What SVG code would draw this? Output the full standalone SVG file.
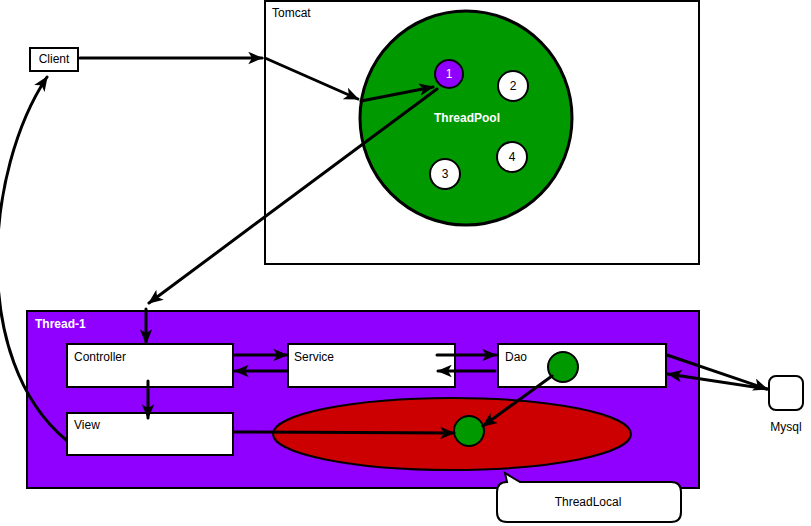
<svg xmlns="http://www.w3.org/2000/svg" width="811" height="526" viewBox="0 0 811 526">
<style>
text{font-family:"Liberation Sans",Arial,sans-serif;font-size:12px;fill:#000}
.box{fill:#fff;stroke:#000;stroke-width:2}
.wt{fill:#fff}
.c{fill:none;stroke:#000;stroke-width:3;stroke-linecap:round}
.a{marker-end:url(#ah)}
.g{fill:#009900;stroke:#000;stroke-width:2}
</style>
<defs>
<marker id="ah" viewBox="0 0 12 10" refX="11" refY="5" markerWidth="15" markerHeight="13" markerUnits="userSpaceOnUse" orient="auto">
<path d="M0,0 L12,5 L0,10 L3,5 z" fill="#000"/>
</marker>
</defs>
<g id="tomcat">
<rect x="265" y="1" width="434" height="263" class="box"/>
<text x="272" y="17" font-size="11">Tomcat</text>
</g>
<g id="threadpool">
<ellipse cx="466" cy="118" rx="106" ry="107" fill="#009900" stroke="#000" stroke-width="3"/>
<text x="467" y="122" text-anchor="middle" class="wt" font-weight="bold">ThreadPool</text>
</g>
<g id="t1"><circle cx="449" cy="74" r="14" fill="#9000FF" stroke="#000" stroke-width="2"/><text x="449" y="78" text-anchor="middle" class="wt">1</text></g>
<g id="t2"><circle cx="513" cy="86" r="15" class="box"/><text x="513" y="90" text-anchor="middle">2</text></g>
<g id="t4"><circle cx="512" cy="157" r="15" class="box"/><text x="512" y="161" text-anchor="middle">4</text></g>
<g id="t3"><circle cx="445" cy="174" r="15" class="box"/><text x="445" y="178" text-anchor="middle">3</text></g>
<g id="client">
<rect x="30" y="48" width="48" height="23" class="box"/>
<text x="54" y="63" text-anchor="middle">Client</text>
</g>
<g id="thread1">
<rect x="27" y="311" width="672" height="177" fill="#8F00FF" stroke="#000" stroke-width="2"/>
<text x="35" y="328" class="wt" font-weight="bold">Thread-1</text>
</g>
<g id="threadlocal-area">
<ellipse cx="452" cy="434" rx="179" ry="36" fill="#CC0000" stroke="#000" stroke-width="2"/>
</g>
<g id="controller"><rect x="67" y="344" width="166" height="43" class="box"/><text x="74" y="361">Controller</text></g>
<g id="view"><rect x="67" y="413" width="166" height="42" class="box"/><text x="74" y="429">View</text></g>
<g id="service"><rect x="288" y="344" width="167" height="43" class="box"/><text x="294" y="361">Service</text></g>
<g id="dao"><rect x="498" y="344" width="168" height="43" class="box"/><text x="505" y="361">Dao</text></g>
<g id="dao-obj"><circle cx="563" cy="367" r="15" class="g"/></g>
<g id="tl-obj"><circle cx="469" cy="431" r="15" class="g"/></g>
<g id="mysql">
<rect x="769" y="376" width="34" height="34" rx="7" class="box"/>
<text x="786" y="431" text-anchor="middle">Mysql</text>
</g>
<g id="threadlocal">
<path d="M507,482 L505,473 L520,482 L671,482 Q681,482 681,492 L681,512 Q681,522 671,522 L507,522 Q497,522 497,512 L497,492 Q497,482 507,482 Z" class="box"/>
<text x="588" y="506" text-anchor="middle">ThreadLocal</text>
</g>
<g id="connectors">
<path class="c a" d="M80,58 L262,58"/>
<path class="c a" d="M265,58 L358,99"/>
<path class="c a" d="M361,101 L433,87"/>
<path class="c a" d="M437,89 L149,303"/>
<path class="c a" d="M146,309 L146,343"/>
<path class="c a" d="M235,355 L287,355"/>
<path class="c a" d="M287,371 L235,371"/>
<path class="c a" d="M148,381 L148,418"/>
<path class="c a" d="M437,355 L496,355"/>
<path class="c a" d="M495,371 L438,371"/>
<path class="c a" d="M234,432 L454,433"/>
<path class="c a" d="M552,376 L483,426"/>
<path class="c a" d="M667,355 L767,389"/>
<path class="c a" d="M767,389 L668,374"/>
<path class="c a" d="M66,440 C-30,360 -15,170 47,77"/>
</g>
</svg>
